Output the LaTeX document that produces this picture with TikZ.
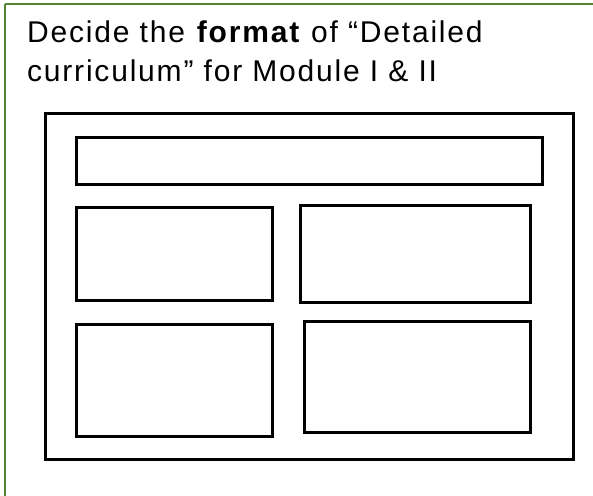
\documentclass[tikz,border=0pt]{standalone}
\usepackage{fontspec}
\setmainfont{Liberation Sans}[LetterSpace=6]
\definecolor{framegreen}{RGB}{84,130,53}

\begin{document}
\begin{tikzpicture}[x=1pt, y=-1pt,
    panel/.style={draw, line width=3pt, inner sep=0pt},
    heading/.style={anchor=base west, inner sep=0pt, font=\fontsize{30pt}{36pt}\selectfont}]
    \useasboundingbox (0,0) rectangle (593,495);
    \draw[framegreen, line width=1.5pt] (5,4) -- (600,4);
    \draw[framegreen, line width=1.5pt] (5,4) -- (5,500);
    \node(title1)[heading] at (27,43) {Decide the \textbf{format} of “Detailed};
    \node(title2)[heading] at (27,81) {curriculum” for Module I \& II};
    % sheet with header bar and four blocks
    \node(sheet)[panel, minimum width=528pt, minimum height=346pt] at (309,286) {};
    \node(header)[panel, minimum width=466pt, minimum height=47pt] at (309,160.5) {};
    \node(blockA)[panel, minimum width=196pt, minimum height=93pt] at (174,253.5) {};
    \node(blockB)[panel, minimum width=230pt, minimum height=97pt] at (415,253.5) {};
    \node(blockC)[panel, minimum width=196pt, minimum height=112pt] at (174,380) {};
    \node(blockD)[panel, minimum width=226pt, minimum height=111pt] at (417,376.5) {};
\end{tikzpicture}
\end{document}
